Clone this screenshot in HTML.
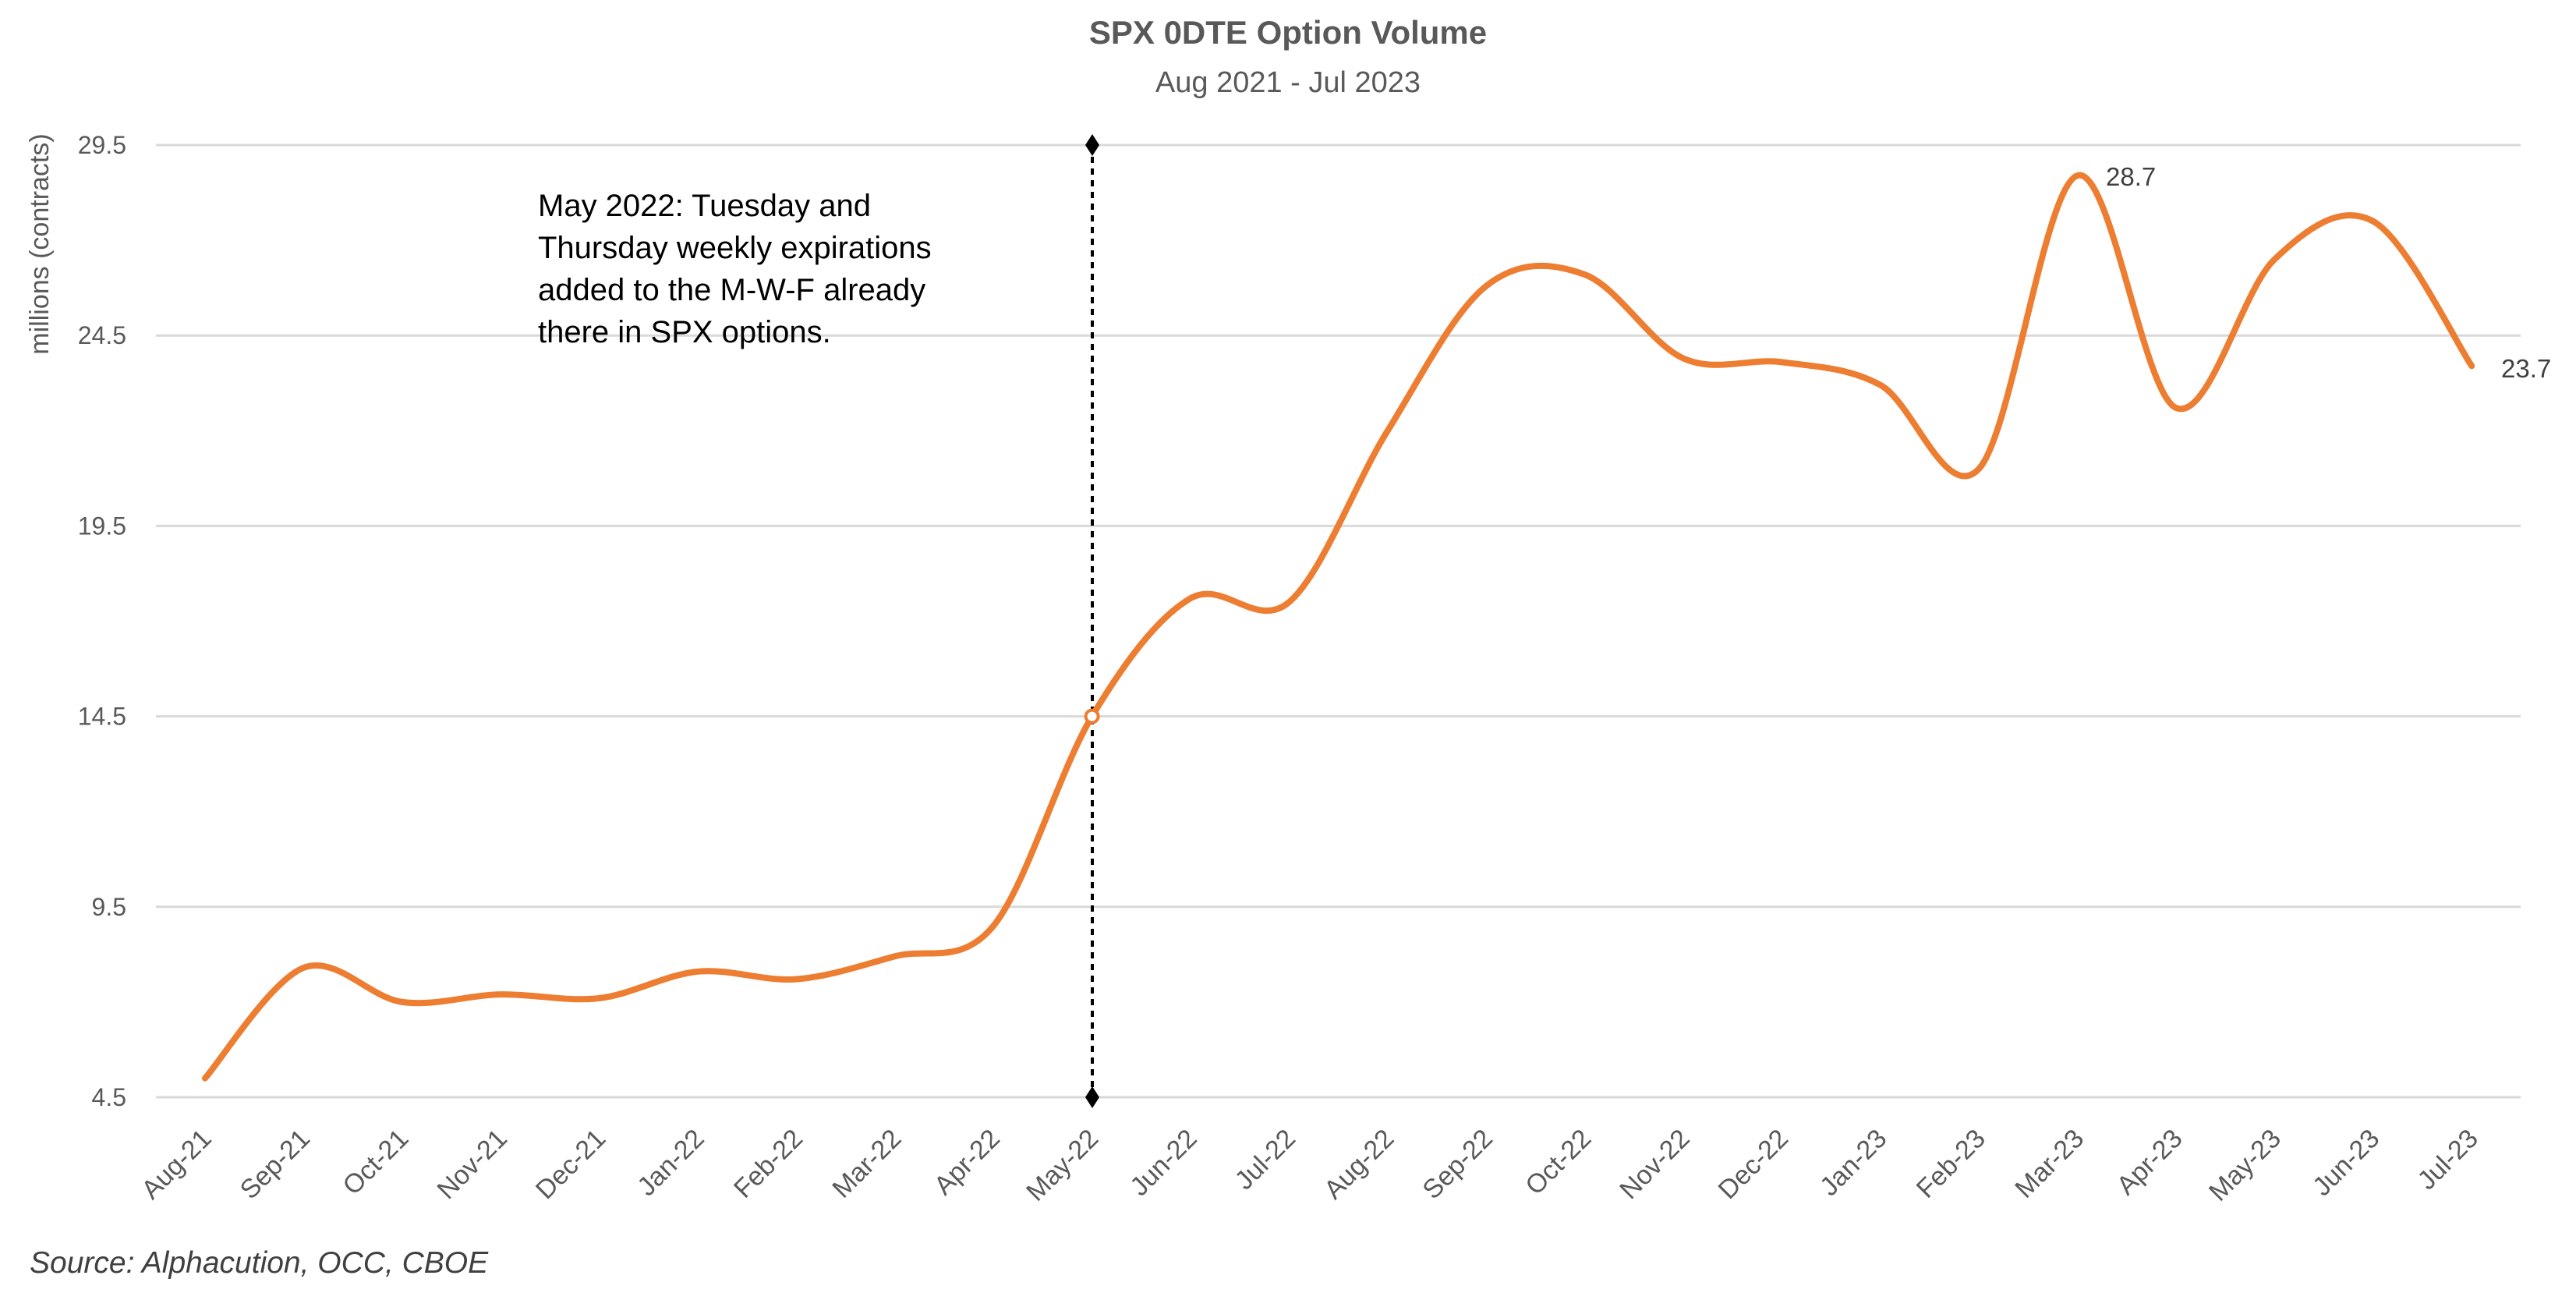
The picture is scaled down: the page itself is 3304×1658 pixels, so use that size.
<!DOCTYPE html>
<html><head><meta charset="utf-8"><style>
html,body{margin:0;padding:0;background:#fff;}
svg{display:block;}
</style></head><body>
<svg id="s" width="3304" height="1658" xmlns="http://www.w3.org/2000/svg">
<rect width="3304" height="1658" fill="#fff"/>
<text x="1652" y="56" text-anchor="middle" font-family="Liberation Sans, sans-serif" font-weight="bold" font-size="42" fill="#595959">SPX 0DTE Option Volume</text>
<text x="1652" y="118" text-anchor="middle" font-family="Liberation Sans, sans-serif" font-size="38" fill="#595959">Aug 2021 - Jul 2023</text>
<g id="grid" stroke="#d9d9d9" stroke-width="3"></g>
<g id="ylab" font-family="Liberation Sans, sans-serif" font-size="32" fill="#595959" text-anchor="end"></g>
<text transform="translate(62,313) rotate(-90)" text-anchor="middle" font-family="Liberation Sans, sans-serif" font-size="34" fill="#595959">millions (contracts)</text>
<g id="xlab" font-family="Liberation Sans, sans-serif" font-size="34" fill="#595959" text-anchor="end"></g>
<line x1="1401" y1="186" x2="1401" y2="1405" stroke="#000" stroke-width="4" stroke-dasharray="8,7"/>
<path d="M1401 172 L1410 186 L1401 200 L1392 186Z" fill="#000"/>
<path d="M1401 1393 L1410 1407 L1401 1421 L1392 1407Z" fill="#000"/>
<path id="line" fill="none" stroke="#ed7d31" stroke-width="8" stroke-linecap="round" stroke-linejoin="round"/>
<circle id="mk" r="8" fill="#fff" stroke="#ed7d31" stroke-width="4"/>
<g font-family="Liberation Sans, sans-serif" font-size="40" fill="#000">
<text x="690" y="277">May 2022: Tuesday and</text>
<text x="690" y="331">Thursday weekly expirations</text>
<text x="690" y="385">added to the M-W-F already</text>
<text x="690" y="439">there in SPX options.</text>
</g>
<text x="2701" y="238" font-family="Liberation Sans, sans-serif" font-size="33" fill="#404040">28.7</text>
<text x="3208" y="484" font-family="Liberation Sans, sans-serif" font-size="33" fill="#404040">23.7</text>
<text x="38" y="1632" font-family="Liberation Sans, sans-serif" font-style="italic" font-size="39" fill="#404040">Source: Alphacution, OCC, CBOE</text>
</svg>
<script>
var NS="http://www.w3.org/2000/svg";
function Y(v){return 186+(29.5-v)*48.84;}
function X(i){return 263+i*126.4;}
var g=document.getElementById('grid'),yl=document.getElementById('ylab'),xl=document.getElementById('xlab');
[29.5,24.5,19.5,14.5,9.5,4.5].forEach(function(v){
 var l=document.createElementNS(NS,'line');l.setAttribute('x1',200);l.setAttribute('x2',3233);
 l.setAttribute('y1',Y(v));l.setAttribute('y2',Y(v));g.appendChild(l);
 var t=document.createElementNS(NS,'text');t.setAttribute('x',162);t.setAttribute('y',Y(v)+11);t.textContent=v.toFixed(1);yl.appendChild(t);
});
var m=['Aug-21','Sep-21','Oct-21','Nov-21','Dec-21','Jan-22','Feb-22','Mar-22','Apr-22','May-22','Jun-22','Jul-22','Aug-22','Sep-22','Oct-22','Nov-22','Dec-22','Jan-23','Feb-23','Mar-23','Apr-23','May-23','Jun-23','Jul-23'];
m.forEach(function(s,i){
 var t=document.createElementNS(NS,'text');var x=X(i)+10,y=1462;
 t.setAttribute('transform','translate('+x+','+y+') rotate(-45)');t.textContent=s;xl.appendChild(t);
});
var v=[5.0,7.9,7.0,7.2,7.1,7.8,7.6,8.2,9.0,14.5,17.6,17.5,22.0,25.8,26.1,23.9,23.8,23.2,21.0,28.7,22.6,26.5,27.5,23.7];
var p=v.map(function(a,i){return [X(i),Y(a)];});
var d='M'+p[0][0]+' '+p[0][1];
for(var i=0;i<p.length-1;i++){
 var p0=p[Math.max(0,i-1)],p1=p[i],p2=p[i+1],p3=p[Math.min(p.length-1,i+2)];
 var k=1/6;
 d+=' C'+(p1[0]+(p2[0]-p0[0])*k)+' '+(p1[1]+(p2[1]-p0[1])*k)+' '+(p2[0]-(p3[0]-p1[0])*k)+' '+(p2[1]-(p3[1]-p1[1])*k)+' '+p2[0]+' '+p2[1];
}
document.getElementById('line').setAttribute('d',d);
var mk=document.getElementById('mk');mk.setAttribute('cx',p[9][0]);mk.setAttribute('cy',p[9][1]);
</script>
</body></html>
